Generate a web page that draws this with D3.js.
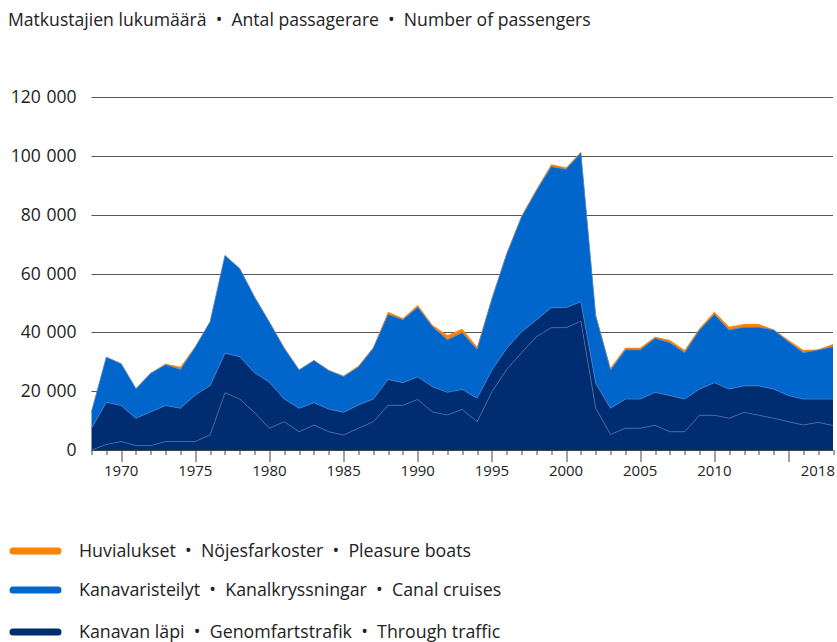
<!DOCTYPE html>
<html>
<head>
<meta charset="utf-8">
<script src="https://cdn.jsdelivr.net/npm/d3@7"></script>
<style>
  body { margin: 0; background: #fff; }
  svg text { font-family: "Open Sans", "Noto Sans", sans-serif; fill: #222; white-space: pre; }
</style>
</head>
<body>
<svg id="chart"></svg>
<script>
// years on the x axis
var years = d3.range(1968, 2019);
// through traffic, lower part (under the thin line)
var throughLower = [0, 1900, 2900, 1500, 1500, 2900, 2900, 2900, 5100, 19500,
  17300, 12700, 7400, 9600, 6200, 8500, 6200, 5100, 7400, 9600,
  15200, 15200, 17200, 12900, 11900, 13800, 9600, 19800, 27400, 33100,
  38500, 41600, 41600, 43800, 14200, 5300, 7400, 7400, 8400, 6200,
  6200, 11800, 11800, 10800, 12800, 11800, 10800, 9600, 8500, 9400, 8300];
// through traffic, upper part
var throughUpper = [7400, 14300, 12200, 9300, 11500, 12200, 11300, 15800, 16800, 13400,
  14400, 13600, 15600, 7700, 8000, 7600, 7700, 7700, 7900, 7700,
  8800, 7700, 7700, 8600, 7700, 6800, 8000, 7400, 7200, 7100,
  5700, 6800, 6800, 6600, 8500, 8900, 9900, 9900, 11200, 12300,
  11100, 8900, 11100, 9900, 9000, 10000, 9900, 8900, 8800, 7900, 9000];
// canal cruises
var cruises = [5600, 15300, 14200, 10000, 13100, 13900, 13200, 16300, 21700, 33200,
  29900, 25600, 20400, 17200, 13000, 14300, 13100, 12200, 12900, 17300,
  22100, 21400, 23600, 20400, 17900, 19300, 16600, 24100, 32000, 39000,
  43900, 47900, 47000, 50600, 22900, 13000, 16700, 16700, 18400, 18000,
  15800, 20100, 23200, 20100, 19900, 19900, 20100, 18300, 15800, 16700, 17800];
// pleasure boats
var pleasure = [200, 200, 200, 200, 200, 300, 900, 300, 200, 200,
  200, 200, 200, 400, 200, 200, 200, 200, 400, 300,
  900, 500, 800, 600, 1500, 1300, 900, 500, 500, 500,
  500, 800, 600, 400, 500, 800, 800, 800, 500, 900,
  900, 600, 900, 1100, 1100, 1100, 200, 600, 900, 200, 900];

var yTicks = [0, 20000, 40000, 60000, 80000, 100000, 120000];
var xLabels = [1970, 1975, 1980, 1985, 1990, 1995, 2000, 2005, 2010, 2018];
var majorTicks = [1970, 1975, 1980, 1985, 1990, 1995, 2000, 2005, 2010, 2015];

var legendItems = [
  {label: "Huvialukset  •  Nöjesfarkoster  •  Pleasure boats", color: "#ff8200"},
  {label: "Kanavaristeilyt  •  Kanalkryssningar  •  Canal cruises", color: "#0066cc"},
  {label: "Kanavan läpi  •  Genomfartstrafik  •  Through traffic", color: "#002d72"}
];

var W = 837, H = 642;
var margin = {top: 97, right: 4, bottom: 192, left: 91.5};
var width = W - margin.left - margin.right,
    height = H - margin.top - margin.bottom;

var svg = d3.select("#chart").attr("width", W).attr("height", H);

// title
svg.append("text").attr("x", 8).attr("y", 26)
  .style("font-size", "17.6px")
  .text("Matkustajien lukumäärä  •  Antal passagerare  •  Number of passengers");

var g = svg.append("g").attr("transform", "translate(" + margin.left + "," + margin.top + ")");

var x = d3.scaleLinear().domain([1968, 2018]).range([0, width]);
var y = d3.scaleLinear().domain([0, 120000]).range([height, 0]);

// gridlines
g.selectAll(".grid").data(yTicks.filter(function(d){ return d > 0; })).enter().append("line")
  .attr("x1", 0).attr("x2", width)
  .attr("y1", function(d){ return Math.round(y(d)) + 0.5; })
  .attr("y2", function(d){ return Math.round(y(d)) + 0.5; })
  .attr("stroke", "#555").attr("stroke-width", 1);

// y labels
g.selectAll(".ylab").data(yTicks).enter().append("text")
  .attr("x", -15).attr("y", function(d){ return y(d); }).attr("dy", "0.35em")
  .attr("text-anchor", "end").style("font-size", "17.5px")
  .text(function(d){ return d3.format(",")(d).replace(/,/g, "\u2004"); });

// stacked data
var rows = years.map(function(yr, i){
  return {year: yr, throughLower: throughLower[i], throughUpper: throughUpper[i],
          cruises: cruises[i], pleasure: pleasure[i]};
});
var keys = ["throughLower", "throughUpper", "cruises", "pleasure"];
var colors = {throughLower: "#002d72", throughUpper: "#002d72", cruises: "#0066cc", pleasure: "#ff8200"};
var stacked = d3.stack().keys(keys)(rows);

var area = d3.area()
  .x(function(d){ return x(d.data.year); })
  .y0(function(d){ return y(d[0]); })
  .y1(function(d){ return y(d[1]); });
var topLine = d3.line()
  .x(function(d){ return x(d.data.year); })
  .y(function(d){ return y(d[1]); });

g.selectAll(".layer").data(stacked).enter().append("path")
  .attr("d", area)
  .attr("fill", function(d){ return colors[d.key]; });

// thin light separators between layers
g.selectAll(".sep").data(stacked.slice(0, 3)).enter().append("path")
  .attr("d", topLine)
  .attr("fill", "none")
  .attr("stroke", function(d){ return d.key === "throughLower" ? "#4a6aa0" : "#3f7fc8"; })
  .attr("stroke-width", 0.8);

// x axis
g.append("line").attr("x1", 0).attr("x2", width)
  .attr("y1", height + 0.5).attr("y2", height + 0.5).attr("stroke", "#444");
g.selectAll(".tick").data(years).enter().append("line")
  .attr("x1", function(d){ return Math.round(x(d)) + 0.5; })
  .attr("x2", function(d){ return Math.round(x(d)) + 0.5; })
  .attr("y1", height)
  .attr("y2", function(d){ return height + (majorTicks.indexOf(d) >= 0 ? 12 : 5); })
  .attr("stroke", "#444");
g.selectAll(".xlab").data(xLabels).enter().append("text")
  .attr("x", function(d){ return d === 2018 ? x(d) + 2 : x(d); })
  .attr("y", height + 26)
  .attr("text-anchor", function(d){ return d === 2018 ? "end" : "middle"; })
  .style("font-size", "15px")
  .text(function(d){ return d; });

// legend
var leg = svg.selectAll(".leg").data(legendItems).enter().append("g")
  .attr("transform", function(d, i){ return "translate(0," + [551, 590, 632][i] + ")"; });
leg.append("line").attr("x1", 13).attr("x2", 58).attr("y1", 0).attr("y2", 0)
  .attr("stroke", function(d){ return d.color; })
  .attr("stroke-width", 7).attr("stroke-linecap", "round");
leg.append("text").attr("x", 79).attr("y", 0).attr("dy", "0.35em")
  .style("font-size", "17.8px")
  .text(function(d){ return d.label; });
</script>
</body>
</html>
